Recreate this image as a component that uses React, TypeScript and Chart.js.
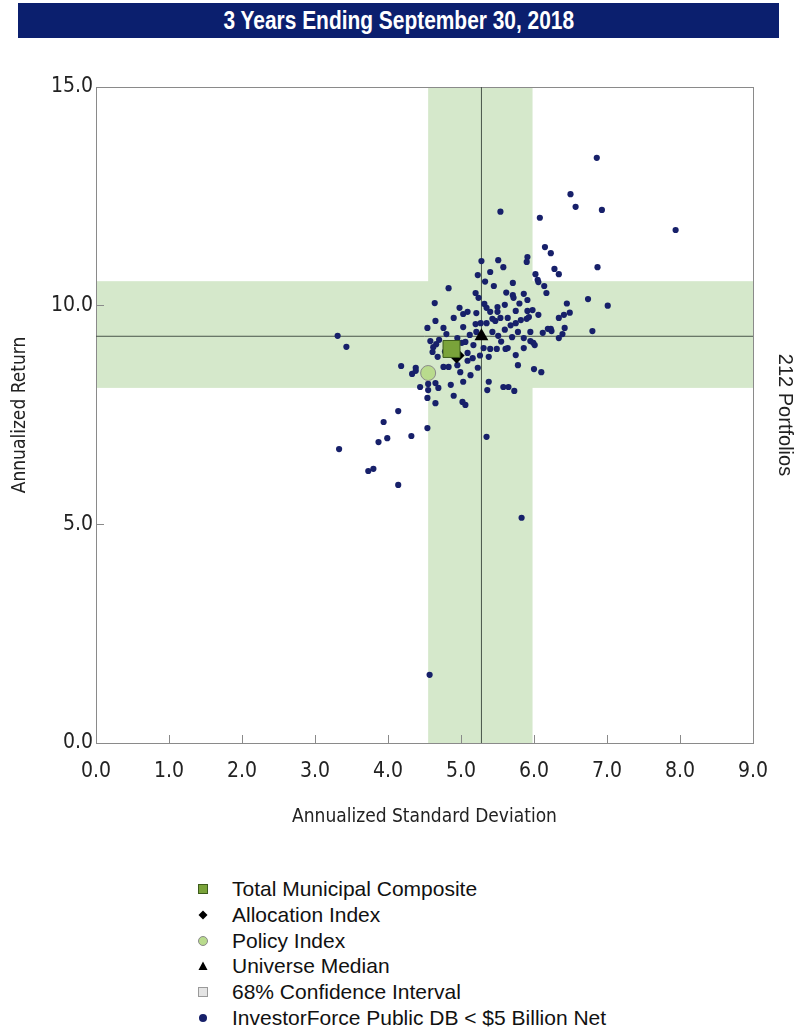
import React, { useEffect, useRef } from "react";
import { Chart, registerables } from "chart.js";

Chart.register(...registerables);

// ---------- data ----------
const chartTitle = "3 Years Ending September 30, 2018";
const xAxisTitle = "Annualized Standard Deviation";
const yAxisTitle = "Annualized Return";
const rightLabel = "212 Portfolios";

const xTickValues = [0, 1, 2, 3, 4, 5, 6, 7, 8, 9];
const yTickValues = [0, 5, 10, 15];

// universe scatter: [std dev, return]
const universeStdDev = [
  6.86, 6.5, 6.57, 6.93, 5.54, 6.08, 7.94, 6.15, 6.23, 5.91, 5.9, 6.87, 6.28, 6.34, 6.02, 6.05, 6.06, 6.14, 6.17, 5.71,
  5.71, 5.72, 5.86, 5.91, 6.74, 7.01, 5.75, 5.91, 5.98, 6.06, 6.34, 6.41, 6.49, 5.28, 5.51, 5.58, 5.4, 5.23, 4.83, 5.2,
  5.24, 4.64, 5.32, 5.35, 5.5, 5.6, 5.09, 5.03, 5.21, 5.4, 5.5, 4.9, 4.65, 5.43, 5.54, 5.64, 5.2, 5.27, 4.54, 4.76,
  5.03, 5.21, 5.43, 5.51, 4.58, 4.66, 5.06, 5.17, 5.31, 5.4, 5.49, 5.61, 4.61, 4.68, 5.09, 5.16, 5.38, 5.09, 4.76, 4.83,
  4.95, 4.99, 5.23, 4.38, 4.33, 5.13, 5.03, 5.38, 4.44, 4.55, 4.65, 4.69, 4.55, 4.86, 5.36, 5.58, 4.54, 4.9, 4.65, 5.02,
  5.06, 5.75, 5.82, 5.9, 5.93, 5.78, 5.95, 6.12, 6.19, 6.24, 6.42, 6.39, 6.34, 6.8, 5.86, 5.95, 6.01, 5.64, 5.86, 5.75,
  5.78, 6.0, 6.1, 5.65, 5.73, 3.31, 3.43, 4.18, 4.38, 4.14, 3.94, 3.99, 3.87, 4.32, 3.33, 3.73, 3.8, 4.14, 4.54, 5.35,
  5.83, 4.57, 5.99, 6.23, 4.95, 5.01, 4.62, 4.7, 5.47, 5.35, 5.12, 5.6, 5.68, 5.55, 5.7, 4.8, 5.45, 5.62, 5.8, 6.45,
  5.33, 4.98, 4.78, 5.26,
];
const universeReturn = [
  13.38, 12.55, 12.26, 12.19, 12.15, 12.01, 11.73, 11.34, 11.2, 11.11, 11.0, 10.88, 10.84, 10.72, 10.72, 10.59, 10.54,
  10.45, 10.29, 10.52, 10.24, 10.18, 10.27, 10.13, 10.15, 10.0, 9.88, 9.88, 9.9, 9.79, 9.72, 9.79, 9.84, 11.02, 11.04,
  10.88, 10.77, 10.7, 10.4, 10.29, 10.18, 10.06, 10.04, 9.95, 9.97, 10.02, 9.86, 9.81, 9.83, 9.86, 9.86, 9.72, 9.65,
  9.7, 9.72, 9.72, 9.58, 9.6, 9.49, 9.49, 9.51, 9.4, 9.4, 9.31, 9.19, 9.12, 9.17, 9.1, 9.03, 9.01, 9.01, 9.01, 8.94,
  8.83, 8.92, 8.8, 8.83, 8.74, 8.6, 8.6, 8.64, 8.48, 8.58, 8.58, 8.44, 8.41, 8.26, 8.26, 8.14, 8.21, 8.23, 8.12, 8.07,
  8.19, 8.07, 8.14, 7.89, 7.94, 7.77, 7.8, 7.73, 9.6, 9.67, 9.7, 9.74, 9.4, 9.4, 9.38, 9.47, 9.42, 9.49, 9.35, 9.26,
  9.42, 9.26, 9.19, 9.1, 9.03, 9.03, 8.87, 8.64, 8.55, 8.48, 8.14, 8.05, 9.31, 9.06, 8.62, 8.51, 7.59, 7.34, 6.97, 6.88,
  7.02, 6.72, 6.22, 6.27, 5.9, 7.2, 7.0, 5.15, 1.56, 9.15, 9.47, 9.26, 9.15, 9.05, 9.22, 9.65, 9.6, 9.33, 9.45, 9.55,
  9.18, 9.28, 9.35, 10.45, 10.3, 10.05, 10.05, 10.55, 9.95, 8.95, 8.86,
];

const compositeStdDev = [4.87];
const compositeReturn = [9.01];
const allocationStdDev = [4.94];
const allocationReturn = [8.86];
const policyStdDev = [4.55];
const policyReturn = [8.46];
const medianStdDev = [5.28];
const medianReturn = [9.3];

// 68% confidence interval bands
const bandStdDev = [4.55, 5.98];
const bandReturn = [8.12, 10.56];

const legendLabels = [
  "Total Municipal Composite",
  "Allocation Index",
  "Policy Index",
  "Universe Median",
  "68% Confidence Interval",
  "InvestorForce Public DB < $5 Billion Net",
];

// ---------- style ----------
const NARROW = "'DejaVu Sans Condensed', 'Liberation Sans Narrow', sans-serif";
const REGULAR = "'Liberation Sans', Arial, sans-serif";
const NAVY = "#17206a";
const BAND = "#d5e8cb";
const FRAME = "#8a8a8a";

const toPts = (xs: number[], ys: number[]) => xs.map((x, i) => ({ x, y: ys[i] }));

const bandPlugin = {
  id: "bands",
  beforeDraw(chart: any) {
    const { ctx, chartArea, scales } = chart;
    const x = scales.x;
    const y = scales.y;
    ctx.save();
    ctx.fillStyle = BAND;
    const x0 = x.getPixelForValue(bandStdDev[0]);
    const x1 = x.getPixelForValue(bandStdDev[1]);
    ctx.fillRect(x0, chartArea.top, x1 - x0, chartArea.bottom - chartArea.top);
    const y0 = y.getPixelForValue(bandReturn[1]);
    const y1 = y.getPixelForValue(bandReturn[0]);
    ctx.fillRect(chartArea.left, y0, chartArea.right - chartArea.left, y1 - y0);
    ctx.strokeStyle = FRAME;
    ctx.lineWidth = 1;
    ctx.strokeRect(
      Math.round(chartArea.left) + 0.5,
      Math.round(chartArea.top) + 0.5,
      Math.round(chartArea.right - chartArea.left),
      Math.round(chartArea.bottom - chartArea.top)
    );
    ctx.restore();
  },
};

function LegendMarker({ kind }: { kind: number }) {
  const s = 12;
  let shape: any = null;
  if (kind === 0) shape = <rect x={1.5} y={1.5} width={9} height={9} fill="#7aa33a" stroke="#3d5c1c" strokeWidth={1} />;
  if (kind === 1) shape = <polygon points="6,1.5 10.5,6 6,10.5 1.5,6" fill="#000" />;
  if (kind === 2) shape = <circle cx={6} cy={6} r={4.5} fill="#b9db8d" stroke="#8a8a8a" strokeWidth={1} />;
  if (kind === 3) shape = <polygon points="6,1.5 10.5,10 1.5,10" fill="#000" />;
  if (kind === 4) shape = <rect x={1.5} y={1.5} width={9} height={9} fill="#e4e4e4" stroke="#9a9a9a" strokeWidth={1} />;
  if (kind === 5) shape = <circle cx={6} cy={6} r={4} fill={NAVY} />;
  return (
    <svg width={s} height={s} style={{ position: "absolute", left: 197, top: 6 }}>
      {shape}
    </svg>
  );
}

export default function App() {
  const canvasRef = useRef<HTMLCanvasElement | null>(null);

  useEffect(() => {
    if (!canvasRef.current) return;
    const chart = new Chart(canvasRef.current, {
      type: "scatter",
      data: {
        datasets: [
          {
            label: legendLabels[0],
            data: toPts(compositeStdDev, compositeReturn),
            pointStyle: "rect",
            pointRadius: 12,
            backgroundColor: "#7aa33a",
            borderColor: "#3d5c1c",
            borderWidth: 1,
          },
          {
            label: legendLabels[1],
            data: toPts(allocationStdDev, allocationReturn),
            pointStyle: "rectRot",
            pointRadius: 8,
            backgroundColor: "#000",
            borderColor: "#000",
            borderWidth: 0,
          },
          {
            label: legendLabels[2],
            data: toPts(policyStdDev, policyReturn),
            pointStyle: "circle",
            pointRadius: 7.5,
            backgroundColor: "#b9db8d",
            borderColor: "#8a8a8a",
            borderWidth: 1,
          },
          {
            label: legendLabels[3],
            data: toPts(medianStdDev, medianReturn),
            pointStyle: "triangle",
            pointRadius: 8,
            backgroundColor: "#000",
            borderColor: "#000",
            borderWidth: 0,
          },
          {
            label: legendLabels[5],
            data: toPts(universeStdDev, universeReturn),
            pointStyle: "circle",
            pointRadius: 3.1,
            backgroundColor: NAVY,
            borderWidth: 0,
          },
          {
            label: "Median return",
            data: [
              { x: 0, y: medianReturn[0] },
              { x: 9, y: medianReturn[0] },
            ],
            showLine: true,
            pointRadius: 0,
            borderColor: "#48544a",
            borderWidth: 1,
          },
          {
            label: "Median std dev",
            data: [
              { x: medianStdDev[0], y: 0 },
              { x: medianStdDev[0], y: 15 },
            ],
            showLine: true,
            pointRadius: 0,
            borderColor: "#48544a",
            borderWidth: 1,
          },
        ],
      },
      options: {
        animation: false,
        responsive: false,
        events: [],
        layout: { padding: { top: 87, left: 0, right: 0, bottom: 0 } },
        plugins: {
          legend: { display: false },
          tooltip: { enabled: false },
          title: { display: false },
        },
        scales: {
          x: {
            type: "linear",
            position: "bottom",
            min: 0,
            max: 9,
            afterBuildTicks: (scale: any) => {
              scale.ticks = xTickValues.map((v) => ({ value: v }));
            },
            ticks: {
              callback: (v: any) => Number(v).toFixed(1),
              font: { family: NARROW, size: 21 },
              color: "#222",
              padding: 24,
              maxRotation: 0,
              autoSkip: false,
            },
            grid: { drawOnChartArea: false, drawTicks: true, tickLength: -8, color: FRAME },
            border: { display: false },
            title: {
              display: true,
              text: xAxisTitle,
              font: { family: NARROW, size: 19 },
              color: "#222",
              padding: { top: 0, bottom: 22 },
            },
            afterFit: (scale: any) => {
              scale.height = 107;
            },
          },
          y: {
            type: "linear",
            position: "left",
            min: 0,
            max: 15,
            afterBuildTicks: (scale: any) => {
              scale.ticks = yTickValues.map((v) => ({ value: v }));
            },
            ticks: {
              callback: (v: any) => Number(v).toFixed(1),
              font: { family: NARROW, size: 21 },
              color: "#222",
              padding: 11,
              autoSkip: false,
            },
            grid: { drawOnChartArea: false, drawTicks: true, tickLength: -8, color: FRAME },
            border: { display: false },
            title: {
              display: true,
              text: yAxisTitle,
              font: { family: NARROW, size: 19 },
              color: "#222",
              padding: { top: 9, bottom: 0 },
            },
            afterFit: (scale: any) => {
              scale.width = 96;
            },
          },
          y2: {
            type: "linear",
            position: "right",
            min: 0,
            max: 15,
            ticks: { display: false },
            grid: { display: false },
            border: { display: false },
            title: {
              display: true,
              text: rightLabel,
              font: { family: REGULAR, size: 20 },
              color: "#222",
              padding: { top: 0, bottom: 0 },
            },
            afterFit: (scale: any) => {
              scale.width = 44;
            },
          },
        },
      } as any,
      plugins: [bandPlugin],
    });
    return () => chart.destroy();
  }, []);

  return (
    <div style={{ position: "absolute", left: 0, top: 0, width: 797, height: 1030, background: "#fff" }}>
      <canvas ref={canvasRef} width={797} height={850} style={{ position: "absolute", left: 0, top: 0 }} />
      <div
        style={{
          position: "absolute",
          left: 18,
          top: 3,
          width: 761,
          height: 35,
          background: "#0b1f6e",
          color: "#fff",
          textAlign: "center",
          overflow: "hidden",
        }}
      >
        <span
          style={{
            display: "inline-block",
            fontFamily: REGULAR,
            fontWeight: "bold",
            fontSize: 25.5,
            lineHeight: "35px",
            transform: "scaleX(0.82)",
            transformOrigin: "center",
            whiteSpace: "nowrap",
          }}
        >
          {chartTitle}
        </span>
      </div>
      {legendLabels.map((lab, i) => (
        <div
          key={lab}
          style={{
            position: "absolute",
            left: 0,
            top: 877 + i * 25.8,
            width: 797,
            height: 24,
          }}
        >
          <LegendMarker kind={i} />
          <span
            style={{
              position: "absolute",
              left: 232,
              top: 0,
              fontFamily: REGULAR,
              fontSize: 21,
              lineHeight: "24px",
              color: "#111",
              whiteSpace: "nowrap",
            }}
          >
            {lab}
          </span>
        </div>
      ))}
    </div>
  );
}
